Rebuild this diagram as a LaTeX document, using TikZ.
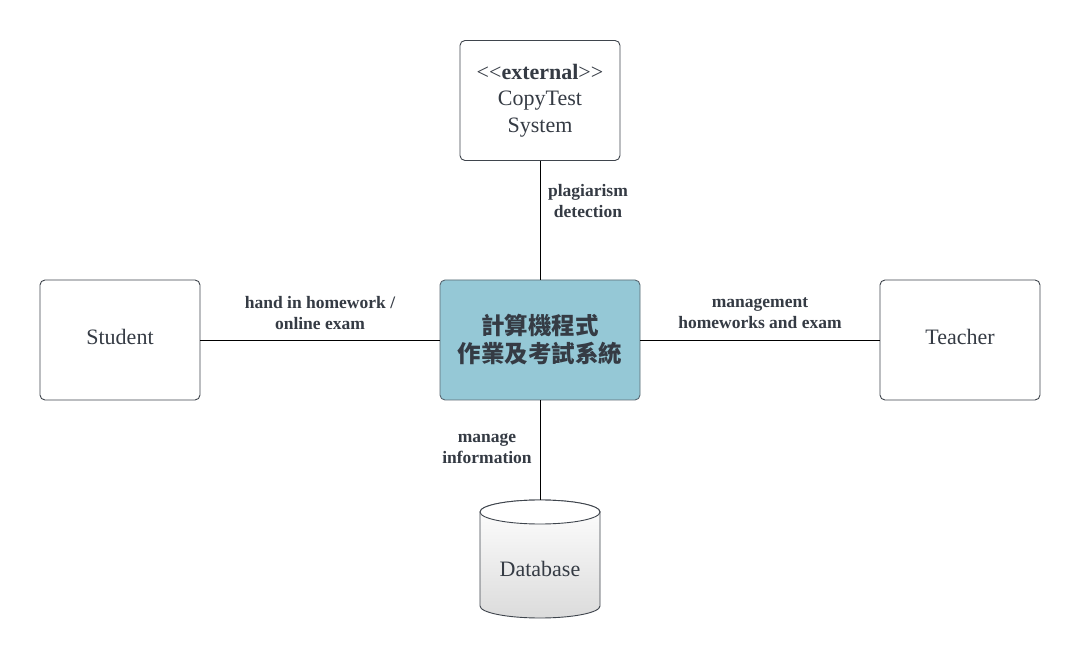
\documentclass[tikz,border=0pt]{standalone}
\usepackage{fontspec}
\setmainfont{Liberation Serif}
\newfontfamily\cjkfont{Noto Sans CJK TC}
\definecolor{txt}{HTML}{353B44}
\definecolor{edge}{HTML}{3F454D}
\definecolor{sysfill}{HTML}{95C8D6}
\definecolor{sysedge}{HTML}{5A6872}
\begin{document}
\begin{tikzpicture}[x=1pt,y=-1pt,
  box/.style={draw=edge,line width=0.9pt,rounded corners=5pt,minimum width=160pt,minimum height=120pt,
    align=center,text=txt,font=\fontsize{22}{26.5}\selectfont,inner sep=2pt},
  sysbox/.style={box,fill=sysfill,draw=sysedge,minimum width=200pt,
    font=\cjkfont\bfseries\fontsize{23.5}{28}\selectfont},
  lbl/.style={align=center,text=txt,font=\bfseries\fontsize{17.5}{21}\selectfont,inner sep=0pt},
  conn/.style={draw=black,line width=0.7pt}]
\useasboundingbox (0,0) rectangle (1080,660);
\fill[white] (0,0) rectangle (1080,660);
\node[box] (ext) at (540,100.5) {<{}<\textbf{external}>{}>\\CopyTest\\System};
\node[box] (stu) at (120,340) {};
\node[text=txt,font=\fontsize{22}{26}\selectfont] (stut) at (120,337) {Student};
\node[box] (tea) at (960,340) {};
\node[text=txt,font=\fontsize{22}{26}\selectfont] (teat) at (960,337) {Teacher};
\node[sysbox] (sys) at (540,340) {計算機程式\\作業及考試系統};
% database cylinder
\node[minimum width=120pt,minimum height=120pt,inner sep=0pt] (db) at (540,560) {};
\shade[top color=white,bottom color=black!14,draw=edge,line width=0.9pt]
  (480,512) -- (480,606) arc[start angle=180,end angle=360,x radius=60,y radius=-12]
  -- (600,512) arc[start angle=0,end angle=180,x radius=60,y radius=-12] -- cycle;
\draw[edge,line width=0.9pt,fill=white] (540,512) ellipse[x radius=60,y radius=12];
\node[text=txt,font=\fontsize{22}{26}\selectfont] (dbt) at (540,569) {Database};
\coordinate (dbtop) at (540,500);
% connectors
\draw[conn] (ext.south) -- (sys.north);
\draw[conn] (stu.east) -- (sys.west);
\draw[conn] (sys.east) -- (tea.west);
\draw[conn] (sys.south) -- (dbtop);
% labels
\node[lbl] (l1) at (588,201) {plagiarism\\detection};
\node[lbl] (l2) at (320,313.5) {hand in homework /\\online exam};
\node[lbl] (l3) at (760,313.5) {management\\homeworks and exam};
\node[lbl] (l4) at (487,449) {manage\\information};
\end{tikzpicture}
\end{document}
